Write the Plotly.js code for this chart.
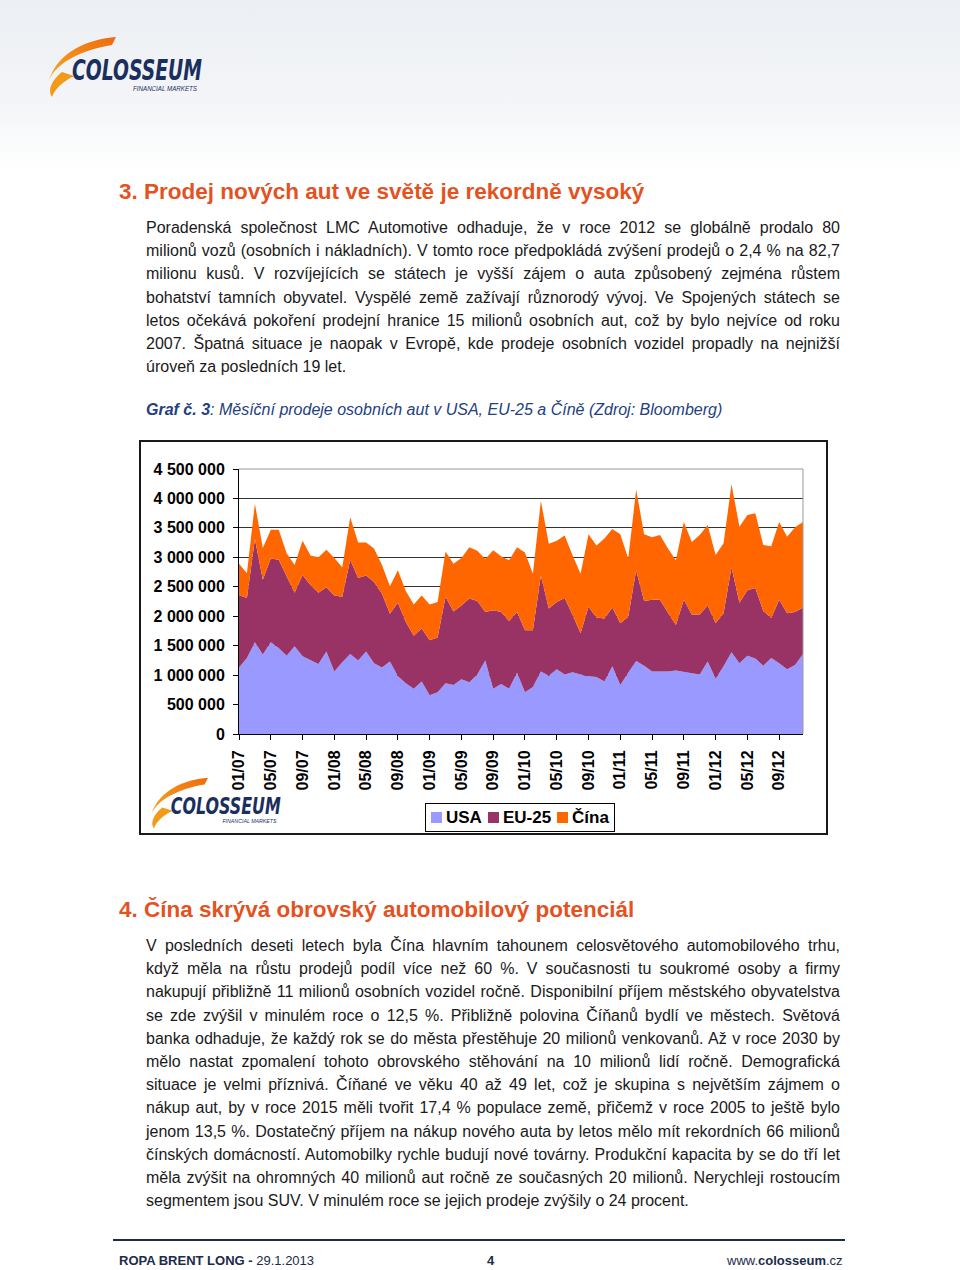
<!DOCTYPE html>
<html>
<head>
<meta charset="utf-8">
<script src="https://cdn.plot.ly/plotly-3.0.1.min.js"></script>
<style>
  html, body { margin:0; padding:0; }
  body { width:960px; height:1270px; position:relative; background:#fff; font-family:"Liberation Sans", Arial, sans-serif; overflow:hidden; }
  .band { position:absolute; left:0; top:0; width:960px; height:170px; background:linear-gradient(#eceff3, #f3f5f8 60%, #ffffff); }
  .h { position:absolute; left:119px; font-size:22.5px; font-weight:bold; color:#E4521F; line-height:26px; white-space:nowrap; }
  .para { position:absolute; left:146px; width:694px; font-size:16px; color:#1a1a1a; }
  .para div { height:23.2px; line-height:23.2px; text-align:justify; text-align-last:justify; white-space:nowrap; }
  .para div.last { text-align-last:left; }
  .cap { position:absolute; left:146px; top:399px; font-size:16px; font-style:italic; color:#23407F; line-height:22px; white-space:nowrap; }
  .frame { position:absolute; left:139px; top:440px; width:685px; height:391px; border:2px solid #1a1a1a; }
  #chart { position:absolute; left:0; top:0; width:685px; height:391px; }
  #legend { position:absolute; left:284px; top:361px; height:27px; border:1px solid #000; background:#fff; display:flex; align-items:center; padding:0 5px 0 5px; font-size:17px; font-weight:bold; color:#000; white-space:nowrap; }
  #legend .sw { display:inline-block; width:11px; height:11px; margin:0 4px 0 0; }
  #legend .it { display:flex; align-items:center; margin-right:6px; }
  #legend .it:last-child { margin-right:0; }
  .footline { position:absolute; left:113px; top:1239px; width:732px; height:2px; background:#1c2b4b; }
  .foot { position:absolute; top:1253px; font-size:13px; color:#1c2b4b; line-height:16px; white-space:nowrap; }
  svg { overflow:visible; }
</style>
</head>
<body>
<div class="band"></div>

<svg style="position:absolute;left:45px;top:35px" width="162" height="66" viewBox="45 35 162 66">
  <defs>
    <linearGradient id="sw1" x1="0" y1="1" x2="1" y2="0">
      <stop offset="0" stop-color="#F6A81C"/><stop offset="1" stop-color="#EE6A12"/>
    </linearGradient>
  </defs>
  <path d="M116 37 C 88 39, 58 52, 49 80 C 57 62, 82 50, 112 45 Z" fill="url(#sw1)"/>
  <path d="M62 72 C 52 80, 47 90, 52 97 C 55 89, 62 82, 74 76 Z" fill="#F39A1A"/>
  <text x="72" y="80" font-family="'Liberation Sans Narrow','DejaVu Sans Condensed','Liberation Sans'" font-weight="bold" font-style="italic" font-size="28" fill="#1B2F5E" textLength="130" lengthAdjust="spacingAndGlyphs">COLOSSEUM</text>
  <text x="133" y="91" font-family="'Liberation Sans Narrow','Liberation Sans'" font-style="italic" font-size="7" fill="#1B2F5E" textLength="64" lengthAdjust="spacingAndGlyphs">FINANCIAL MARKETS</text>
</svg>

<div class="h" style="top:179px">3. Prodej nových aut ve světě je rekordně vysoký</div>

<div class="para" style="top:216px">
  <div>Poradenská společnost LMC Automotive odhaduje, že v roce 2012 se globálně prodalo 80</div>
  <div>milionů vozů (osobních i nákladních). V tomto roce předpokládá zvýšení prodejů o 2,4 % na 82,7</div>
  <div>milionu kusů. V rozvíjejících se státech je vyšší zájem o auta způsobený zejména růstem</div>
  <div>bohatství tamních obyvatel. Vyspělé země zažívají různorodý vývoj. Ve Spojených státech se</div>
  <div>letos očekává pokoření prodejní hranice 15 milionů osobních aut, což by bylo nejvíce od roku</div>
  <div>2007. Špatná situace je naopak v Evropě, kde prodeje osobních vozidel propadly na nejnižší</div>
  <div class="last">úroveň za posledních 19 let.</div>
</div>

<div class="cap"><b>Graf č. 3</b>: Měsíční prodeje osobních aut v USA, EU-25 a Číně (Zdroj: Bloomberg)</div>

<div class="frame">
  <div id="chart"></div>
  <svg style="position:absolute;left:7px;top:334px" width="137" height="56" viewBox="45 35 162 66">
    <defs>
      <linearGradient id="sw2" x1="0" y1="1" x2="1" y2="0">
        <stop offset="0" stop-color="#F6A81C"/><stop offset="1" stop-color="#EE6A12"/>
      </linearGradient>
    </defs>
    <path d="M116 37 C 88 39, 58 52, 49 80 C 57 62, 82 50, 112 45 Z" fill="url(#sw2)"/>
    <path d="M62 72 C 52 80, 47 90, 52 97 C 55 89, 62 82, 74 76 Z" fill="#F39A1A"/>
    <text x="72" y="80" font-family="'Liberation Sans Narrow','DejaVu Sans Condensed','Liberation Sans'" font-weight="bold" font-style="italic" font-size="28" fill="#1B2F5E" textLength="130" lengthAdjust="spacingAndGlyphs">COLOSSEUM</text>
    <text x="133" y="91" font-family="'Liberation Sans Narrow','Liberation Sans'" font-style="italic" font-size="7" fill="#1B2F5E" textLength="64" lengthAdjust="spacingAndGlyphs">FINANCIAL MARKETS</text>
  </svg>
  <div id="legend"></div>
</div>

<div class="h" style="top:897px">4. Čína skrývá obrovský automobilový potenciál</div>

<div class="para" style="top:934px">
  <div>V posledních deseti letech byla Čína hlavním tahounem celosvětového automobilového trhu,</div>
  <div>když měla na růstu prodejů podíl více než 60 %. V současnosti tu soukromé osoby a firmy</div>
  <div>nakupují přibližně 11 milionů osobních vozidel ročně. Disponibilní příjem městského obyvatelstva</div>
  <div>se zde zvýšil v minulém roce o 12,5 %. Přibližně polovina Číňanů bydlí ve městech. Světová</div>
  <div>banka odhaduje, že každý rok se do města přestěhuje 20 milionů venkovanů. Až v roce 2030 by</div>
  <div>mělo nastat zpomalení tohoto obrovského stěhování na 10 milionů lidí ročně. Demografická</div>
  <div>situace je velmi příznivá. Číňané ve věku 40 až 49 let, což je skupina s největším zájmem o</div>
  <div>nákup aut, by v roce 2015 měli tvořit 17,4 % populace země, přičemž v roce 2005 to ještě bylo</div>
  <div>jenom 13,5 %. Dostatečný příjem na nákup nového auta by letos mělo mít rekordních 66 milionů</div>
  <div>čínských domácností. Automobilky rychle budují nové továrny. Produkční kapacita by se do tří let</div>
  <div>měla zvýšit na ohromných 40 milionů aut ročně ze současných 20 milionů. Nerychleji rostoucím</div>
  <div class="last">segmentem jsou SUV. V minulém roce se jejich prodeje zvýšily o 24 procent.</div>
</div>

<div class="footline"></div>
<div class="foot" style="left:119px"><b>ROPA BRENT LONG -</b> 29.1.2013</div>
<div class="foot" style="left:487px"><b>4</b></div>
<div class="foot" style="left:727px">www.<b>colosseum</b>.cz</div>

<script>
const months = [
  '01/07','02/07','03/07','04/07','05/07','06/07','07/07','08/07','09/07','10/07','11/07','12/07',
  '01/08','02/08','03/08','04/08','05/08','06/08','07/08','08/08','09/08','10/08','11/08','12/08',
  '01/09','02/09','03/09','04/09','05/09','06/09','07/09','08/09','09/09','10/09','11/09','12/09',
  '01/10','02/10','03/10','04/10','05/10','06/10','07/10','08/10','09/10','10/10','11/10','12/10',
  '01/11','02/11','03/11','04/11','05/11','06/11','07/11','08/11','09/11','10/11','11/11','12/11',
  '01/12','02/12','03/12','04/12','05/12','06/12','07/12','08/12','09/12','10/12','11/12','12/12'
];
const xTickLabels = ['01/07','05/07','09/07','01/08','05/08','09/08','01/09','05/09','09/09',
  '01/10','05/10','09/10','01/11','05/11','09/11','01/12','05/12','09/12'];

const usa = [1130000,1290000,1560000,1350000,1560000,1460000,1330000,1490000,1320000,1250000,1190000,1400000,
  1060000,1220000,1360000,1250000,1400000,1200000,1130000,1230000,980000,860000,770000,890000,
  660000,710000,860000,830000,930000,880000,1010000,1250000,770000,850000,770000,1040000,
  710000,800000,1060000,990000,1100000,1010000,1050000,1010000,980000,970000,890000,1150000,
  830000,1040000,1240000,1160000,1060000,1060000,1060000,1080000,1050000,1030000,1010000,1230000,
  940000,1150000,1390000,1200000,1330000,1280000,1160000,1290000,1200000,1100000,1170000,1360000];

const eu25 = [1230000,1020000,1750000,1270000,1420000,1500000,1350000,910000,1380000,1280000,1210000,1090000,
  1290000,1110000,1600000,1400000,1290000,1380000,1250000,810000,1250000,1040000,900000,900000,
  930000,930000,1470000,1250000,1250000,1420000,1250000,820000,1330000,1220000,1150000,1030000,
  1050000,960000,1630000,1140000,1140000,1300000,970000,700000,1180000,1010000,1070000,1000000,
  1050000,950000,1540000,1100000,1220000,1220000,1000000,770000,1230000,1000000,1020000,950000,
  940000,900000,1440000,1030000,1110000,1200000,930000,680000,1080000,950000,900000,790000];

const china = [530000,420000,600000,540000,490000,510000,390000,470000,580000,500000,600000,640000,
  640000,500000,720000,600000,560000,570000,490000,470000,550000,530000,530000,560000,
  610000,600000,770000,810000,810000,870000,850000,900000,1020000,950000,1030000,1100000,
  1320000,960000,1270000,1100000,1040000,1060000,1010000,1010000,1230000,1220000,1360000,1330000,
  1510000,990000,1370000,1130000,1060000,1100000,1090000,1100000,1320000,1230000,1350000,1370000,
  1160000,1190000,1410000,1290000,1280000,1270000,1120000,1220000,1320000,1300000,1440000,1450000];

const seriesNames = ['USA', 'EU-25', 'Čína'];
const seriesColors = ['#9999FF', '#993366', '#FF6600'];
const seriesValues = [usa, eu25, china];

const traces = seriesValues.map((vals, k) => ({
  type: 'scatter',
  mode: 'lines',
  x: months,
  y: vals,
  name: seriesNames[k],
  stackgroup: 'one',
  line: { width: 0, color: seriesColors[k] },
  fillcolor: seriesColors[k],
  hoverinfo: 'skip'
}));

const font = { family: '"Liberation Sans", Arial, sans-serif', size: 16, color: '#000', weight: 'bold' };

const layout = {
  width: 685, height: 391,
  margin: { l: 98, r: 23, t: 27, b: 99, autoexpand: false },
  paper_bgcolor: 'rgba(0,0,0,0)', plot_bgcolor: '#fff',
  separators: ', ',
  showlegend: false,
  xaxis: {
    type: 'category', automargin: false,
    range: [0, months.length - 1],
    tickmode: 'array', tickvals: xTickLabels, ticktext: xTickLabels,
    tickangle: -90, tickfont: font, ticklabelstandoff: 4,
    ticks: 'outside', ticklen: 5, tickcolor: '#000',
    showline: true, linecolor: '#000', linewidth: 1,
    showgrid: false, zeroline: false, fixedrange: true
  },
  yaxis: {
    automargin: false,
    range: [0, 4500000], dtick: 500000, tick0: 0,
    tickformat: ',d', tickfont: font, ticklabelstandoff: 5,
    ticks: 'outside', ticklen: 5, tickcolor: '#000',
    showline: true, linecolor: '#000', linewidth: 1,
    showgrid: true, gridcolor: '#333', gridwidth: 1,
    zeroline: false, fixedrange: true
  },
  shapes: [
    { type: 'line', xref: 'paper', yref: 'paper', x0: 0, x1: 1, y0: 1, y1: 1, line: { color: '#999', width: 1 }, layer: 'above' },
    { type: 'line', xref: 'paper', yref: 'paper', x0: 1, x1: 1, y0: 0, y1: 1, line: { color: '#999', width: 1 }, layer: 'above' }
  ]
};

Plotly.newPlot('chart', traces, layout, { staticPlot: true, displayModeBar: false });

// legend built from the series names/colours
const lg = document.getElementById('legend');
seriesNames.forEach((n, k) => {
  const it = document.createElement('span');
  it.className = 'it';
  const sw = document.createElement('span');
  sw.className = 'sw';
  sw.style.background = seriesColors[k];
  it.appendChild(sw);
  it.appendChild(document.createTextNode(n));
  lg.appendChild(it);
});
</script>
</body>
</html>
